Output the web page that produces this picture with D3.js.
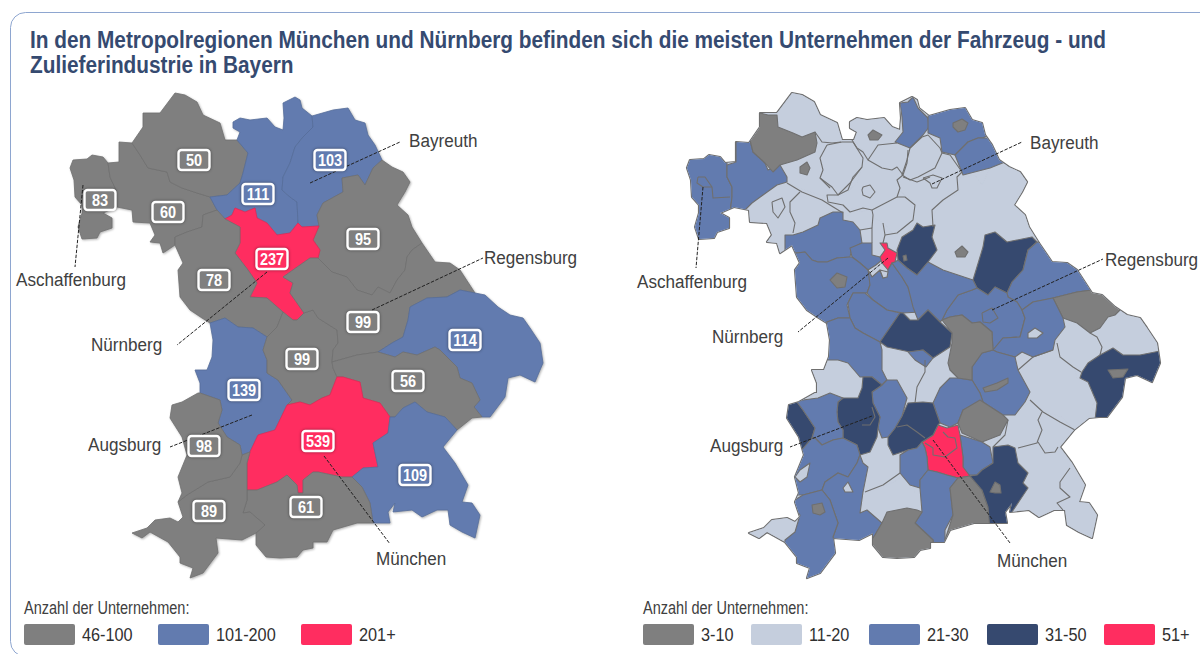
<!DOCTYPE html>
<html>
<head>
<meta charset="utf-8">
<script src="https://cdnjs.cloudflare.com/ajax/libs/d3/7.8.5/d3.min.js"></script>
<style>
	html, body { margin: 0; background: #fff; }
	svg { display: block; }
	text { font-family: "Liberation Sans", sans-serif; }
</style>
</head>
<body>
<div id="chart"></div>
<script>
const titleLines = [
	"In den Metropolregionen München und Nürnberg befinden sich die meisten Unternehmen der Fahrzeug - und",
	"Zulieferindustrie in Bayern"
];
const legendTitle = "Anzahl der Unternehmen:";

// left map: planning regions
const leftThresholds = [101, 201];
const leftColors = ["#7f7f7f", "#627baf", "#ff2d60"];
const leftLegend = ["46-100", "101-200", "201+"];
const leftNames = ["Untermain", "Würzburg", "Main-Rhön", "Oberfranken-West", "Oberfranken-Ost", "Oberpfalz-Nord", "Mittelfranken", "Westmittelfranken", "Augsburg", "Ingolstadt", "Regensburg", "Donau-Wald", "Landshut", "München", "Südostoberbayern", "Oberland", "Allgäu", "Donau-Iller"];
const leftValues = [83, 60, 50, 111, 103, 95, 237, 78, 139, 99, 99, 114, 56, 539, 109, 61, 89, 98];
const leftSpots = [[100,200],[168,212],[194,160],[258,194],[330,160],[363,239],[272,259],[214,280],[244,390],[302,359],[363,322],[465,340],[408,381],[318,441],[415,475],[306,507],[209,511],[204,446]];
const leftOutlines = [
	[[70,168],[73,160],[87,159],[92,155],[103,157],[108,163],[110,177],[116,190],[117,207],[103,213],[112,218],[112,228],[100,232],[97,238],[82,239],[78,227],[82,213],[82,205],[75,197],[74,180]],
	[[108,163],[119,162],[119,142],[132,143],[140,155],[148,168],[167,172],[170,182],[182,188],[197,193],[210,197],[217,210],[203,215],[202,227],[187,232],[175,237],[175,245],[163,253],[160,243],[150,242],[155,235],[150,223],[133,222],[132,210],[117,207],[116,190],[110,177]],
	[[132,143],[143,127],[143,113],[160,113],[175,93],[185,95],[197,102],[203,115],[220,123],[225,140],[237,140],[248,153],[243,173],[240,183],[227,195],[210,197],[197,193],[182,188],[170,182],[167,172],[148,168],[140,155]],
	[[233,122],[240,118],[250,120],[267,118],[275,127],[283,130],[284,118],[283,103],[295,97],[300,100],[302,108],[312,116],[313,127],[303,137],[295,147],[290,163],[283,177],[282,190],[290,197],[297,202],[298,223],[290,233],[277,235],[267,223],[257,218],[255,208],[245,212],[235,208],[232,215],[225,219],[217,210],[210,197],[227,195],[240,183],[243,173],[248,153],[237,140],[240,132],[233,128]],
	[[312,116],[333,110],[348,108],[355,120],[365,123],[368,135],[375,145],[382,160],[373,168],[365,185],[358,175],[342,178],[343,192],[323,203],[317,215],[319,226],[302,227],[298,223],[297,202],[290,197],[282,190],[283,177],[290,163],[295,147],[303,137],[313,127]],
	[[382,160],[392,167],[403,172],[410,182],[405,192],[397,205],[408,215],[412,227],[422,243],[412,250],[407,257],[405,270],[397,280],[390,293],[378,287],[372,295],[357,290],[347,277],[332,272],[318,258],[320,250],[313,240],[319,226],[317,215],[323,203],[343,192],[342,178],[358,175],[365,185],[373,168]],
	[[225,219],[232,215],[235,208],[245,212],[255,208],[257,218],[267,223],[277,235],[290,233],[298,223],[302,227],[319,226],[313,240],[320,250],[318,258],[310,258],[300,265],[283,277],[293,283],[290,293],[297,303],[304,313],[297,320],[293,320],[283,312],[267,298],[250,297],[257,283],[248,270],[235,253],[240,243],[240,227]],
	[[203,215],[217,210],[225,219],[240,227],[240,243],[235,253],[248,270],[257,283],[250,297],[267,298],[283,312],[277,327],[267,337],[253,328],[238,327],[225,318],[210,323],[202,318],[190,310],[180,297],[178,270],[183,263],[175,245],[175,237],[187,232],[202,227]],
	[[210,323],[225,318],[238,327],[253,328],[267,337],[263,350],[267,360],[267,373],[278,380],[292,400],[287,405],[275,430],[258,435],[250,452],[242,455],[240,445],[227,437],[218,423],[222,410],[220,400],[200,393],[200,383],[195,370],[207,370],[212,357],[213,340]],
	[[283,312],[293,320],[297,320],[304,313],[313,310],[318,318],[337,330],[338,343],[333,350],[332,362],[333,368],[337,377],[330,395],[322,398],[310,405],[300,402],[287,405],[292,400],[278,380],[267,373],[267,360],[263,350],[267,337],[277,327]],
	[[318,258],[332,272],[347,277],[357,290],[372,295],[378,287],[390,293],[397,280],[405,270],[407,257],[412,250],[422,243],[435,262],[450,263],[460,270],[475,293],[460,290],[447,297],[427,298],[410,307],[408,320],[403,337],[392,343],[378,352],[357,355],[332,362],[333,350],[338,343],[337,330],[318,318],[313,310],[304,313],[297,303],[290,293],[293,283],[283,277],[300,265],[310,258]],
	[[475,293],[485,295],[498,307],[510,315],[523,318],[530,328],[540,343],[543,363],[540,370],[535,382],[520,375],[508,378],[505,397],[490,417],[482,417],[474,407],[480,400],[472,383],[460,378],[457,367],[440,350],[435,347],[417,355],[403,352],[395,357],[378,352],[392,343],[403,337],[408,320],[410,307],[427,298],[447,297],[460,290]],
	[[332,362],[357,355],[378,352],[395,357],[403,352],[417,355],[435,347],[440,350],[457,367],[460,378],[472,383],[480,400],[474,407],[482,417],[472,418],[457,430],[445,417],[427,412],[415,402],[403,408],[395,417],[390,417],[380,403],[363,398],[360,382],[343,377],[337,377],[333,368]],
	[[337,377],[343,377],[360,382],[363,398],[380,403],[390,417],[388,433],[373,443],[378,467],[363,468],[352,477],[342,477],[318,472],[313,472],[303,480],[303,493],[298,493],[297,485],[287,475],[277,482],[257,490],[247,490],[247,463],[250,452],[258,435],[275,430],[287,405],[300,402],[310,405],[322,398],[330,395]],
	[[415,402],[427,412],[445,417],[457,430],[443,447],[455,463],[468,485],[462,502],[472,503],[480,515],[475,538],[462,532],[450,525],[448,510],[437,510],[422,517],[412,510],[393,512],[395,503],[388,512],[390,523],[373,523],[370,503],[362,487],[352,477],[363,468],[378,467],[373,443],[388,433],[390,417],[395,417],[403,408]],
	[[247,490],[257,490],[277,482],[287,475],[297,485],[298,493],[303,493],[303,480],[313,472],[318,472],[342,477],[352,477],[362,487],[370,503],[373,523],[357,523],[333,530],[327,542],[313,542],[313,548],[303,550],[297,557],[280,558],[266,557],[256,545],[256,533],[265,525],[250,512],[243,513],[247,500]],
	[[242,455],[250,452],[247,463],[247,490],[247,500],[243,513],[250,512],[265,525],[256,533],[242,540],[216,538],[218,553],[203,573],[190,578],[193,568],[180,563],[180,557],[168,542],[150,532],[142,538],[132,533],[147,528],[155,520],[170,518],[178,522],[183,517],[178,502],[187,495],[208,482],[230,477],[240,463]],
	[[172,405],[182,402],[198,393],[200,393],[220,400],[222,410],[218,423],[227,437],[240,445],[242,455],[240,463],[230,477],[208,482],[187,495],[178,502],[182,493],[178,477],[187,455],[182,437],[170,418]]
];

// right map: counties, estimated per class. everything not listed is in the 11-20 class
const rightThresholds = [11, 21, 31, 51];
const rightColors = ["#7f7f7f", "#c5cedd", "#627baf", "#36496f", "#ff2d60"];
const rightLegend = ["3-10", "11-20", "21-30", "31-50", "51+"];
const rightRestValue = 15;
const rightValues = [
	26, 24, 8, 7, 6, 25, 27, 7, 24, 38,
	5, 9, 40, 24, 8, 25, 27, 16, 22, 28,
	7, 7, 40, 9, 8, 26, 60, 38, 24, 26,
	7, 42, 6, 26, 23, 58, 25, 8, 24, 15,
	27, 25, 40, 26, 24, 45, 35, 25, 23, 15,
	24, 15, 26, 5, 8, 23
];
const rightOutlines = [
	[[685,150],[727,150],[727,165],[727,177],[732,187],[732,197],[730,213],[740,217],[740,250],[685,250]],
	[[727,165],[736,162],[736,142],[750,140],[753,152],[765,163],[768,170],[780,165],[787,177],[787,182],[777,185],[763,195],[752,203],[743,212],[740,217],[730,213],[732,197],[732,187],[727,177]],
	[[750,140],[760,113],[768,115],[777,115],[778,127],[793,133],[802,137],[815,132],[817,143],[815,152],[797,160],[780,165],[773,172],[765,163],[753,152]],
	[[800,167],[807,162],[810,168],[807,175],[800,173]],
	[[868,135],[873,130],[882,135],[878,140],[870,140]],
	[[900,103],[908,102],[913,97],[918,108],[928,118],[929,127],[923,135],[910,148],[895,142],[903,132],[902,117]],
	[[928,117],[930,105],[975,100],[988,120],[992,133],[983,138],[978,138],[968,142],[955,155],[942,152],[940,138],[928,133]],
	[[953,123],[962,119],[968,123],[965,130],[958,132],[953,127]],
	[[955,155],[968,142],[978,138],[995,138],[1010,160],[990,168],[963,175]],
	[[917,223],[923,227],[935,225],[932,237],[937,250],[928,262],[917,275],[907,268],[898,260],[897,250],[902,237],[913,230]],
	[[903,256],[906,255],[907,260],[904,261]],
	[[955,252],[962,246],[968,252],[965,257],[957,257]],
	[[985,235],[995,232],[1007,242],[1032,237],[1037,242],[1028,250],[1023,270],[1012,282],[1007,293],[995,287],[988,295],[977,288],[973,280],[980,257],[983,247]],
	[[1037,242],[1050,245],[1065,255],[1085,260],[1100,285],[1092,290],[1077,292],[1053,298],[1033,302],[1022,310],[1017,302],[1008,297],[1007,293],[1012,282],[1023,270],[1028,250]],
	[[1053,298],[1077,292],[1092,290],[1100,285],[1125,305],[1115,315],[1108,317],[1100,328],[1090,333],[1077,323],[1063,318]],
	[[947,310],[958,295],[972,290],[977,288],[988,295],[995,287],[1007,293],[1008,297],[1017,302],[1022,310],[1025,318],[1020,337],[1003,338],[993,350],[992,332],[980,322],[972,323],[962,315],[950,317],[942,320]],
	[[1033,302],[1053,298],[1063,318],[1065,327],[1055,340],[1053,350],[1033,357],[1022,352],[1015,357],[997,352],[993,350],[1003,338],[1020,337],[1025,318],[1022,310]],
	[[1028,333],[1035,328],[1043,333],[1037,338],[1028,338]],
	[[972,367],[982,353],[993,350],[997,352],[1015,357],[1018,370],[1030,392],[1025,402],[1015,415],[1003,415],[983,402],[980,393],[972,380]],
	[[950,378],[958,378],[970,380],[972,380],[980,393],[983,402],[963,410],[958,423],[950,427],[940,423],[933,403],[940,388]],
	[[942,320],[950,317],[962,315],[972,323],[980,322],[992,332],[993,350],[982,353],[972,367],[972,380],[958,378],[950,370],[948,363],[952,343],[952,333]],
	[[983,388],[997,383],[1008,378],[1008,383],[997,390],[985,392]],
	[[1088,363],[1100,355],[1113,348],[1123,355],[1140,355],[1165,350],[1165,385],[1130,385],[1130,400],[1110,425],[1095,420],[1097,403],[1088,382],[1080,378],[1082,372]],
	[[1108,370],[1128,369],[1123,377],[1113,378]],
	[[980,400],[983,402],[1003,415],[1008,420],[1000,435],[982,442],[962,433],[958,423],[963,410]],
	[[960,435],[982,442],[990,447],[993,463],[982,470],[977,475],[968,475],[963,467],[963,457]],
	[[922,442],[933,435],[938,425],[947,428],[958,425],[960,435],[963,457],[963,467],[970,476],[958,478],[947,475],[937,472],[928,470],[927,457],[925,448]],
	[[888,437],[895,428],[902,416],[908,403],[923,402],[933,403],[940,423],[938,425],[933,435],[922,442],[917,448],[908,450],[893,455],[888,445]],
	[[900,455],[908,450],[917,448],[922,442],[925,448],[927,457],[928,470],[920,480],[920,488],[910,485],[900,473]],
	[[928,470],[937,472],[947,475],[958,478],[950,488],[953,515],[945,530],[945,550],[933,550],[933,540],[915,523],[922,512],[920,488],[920,480]],
	[[958,478],[970,476],[982,490],[988,507],[995,523],[995,540],[945,540],[953,515],[950,488]],
	[[993,447],[1008,445],[1015,448],[1018,463],[1028,473],[1023,483],[1028,488],[1020,500],[1012,512],[1012,530],[990,530],[988,507],[982,490],[970,476],[977,475],[982,470],[993,463]],
	[[990,492],[995,482],[1000,485],[1001,493],[995,493]],
	[[793,235],[803,232],[818,225],[820,218],[833,212],[843,212],[843,220],[853,222],[860,230],[862,243],[852,248],[850,257],[837,258],[827,262],[818,262],[812,260],[805,252],[797,253],[785,250],[785,235]],
	[[850,248],[862,243],[872,243],[872,255],[880,257],[882,260],[876,265],[868,270],[860,263],[852,257]],
	[[880,243],[887,243],[888,248],[897,253],[895,262],[892,263],[888,270],[882,263],[880,257],[885,250]],
	[[797,253],[805,252],[812,260],[818,262],[827,262],[837,258],[850,257],[852,257],[860,263],[868,270],[872,277],[870,285],[867,293],[853,293],[847,305],[850,318],[838,318],[827,322],[815,330],[785,330],[785,253]],
	[[830,280],[837,273],[847,277],[845,287],[837,288]],
	[[868,270],[872,277],[880,270],[883,278],[887,277],[888,270],[892,263],[902,277],[908,287],[915,307],[920,312],[903,313],[887,310],[873,300],[867,293],[870,285]],
	[[880,270],[888,272],[887,277],[883,278]],
	[[848,303],[853,293],[865,293],[873,300],[887,310],[900,313],[880,342],[863,333],[855,328],[850,318]],
	[[892,263],[895,262],[898,260],[907,268],[917,275],[928,262],[943,270],[973,280],[977,288],[972,290],[958,295],[947,310],[942,320],[940,322],[928,310],[918,320],[913,307],[908,287],[902,277]],
	[[880,342],[900,313],[903,313],[910,320],[918,320],[928,310],[940,322],[952,333],[950,347],[933,358],[923,350],[910,352],[887,347]],
	[[827,322],[838,318],[850,318],[855,328],[863,333],[880,342],[882,350],[882,370],[887,380],[882,385],[872,377],[860,377],[848,363],[838,360],[822,360]],
	[[882,385],[887,380],[897,380],[907,398],[902,416],[895,428],[888,437],[882,438],[878,428],[880,417],[873,403],[872,392]],
	[[838,402],[843,398],[858,398],[862,388],[863,377],[872,377],[882,385],[872,392],[873,403],[880,417],[878,428],[877,437],[870,452],[860,455],[857,445],[843,438],[843,430],[838,422],[837,412]],
	[[775,405],[790,403],[797,402],[803,410],[815,428],[812,438],[800,452],[775,452]],
	[[803,400],[818,398],[830,393],[843,398],[838,402],[837,412],[838,422],[843,430],[843,438],[833,440],[822,445],[815,438],[812,438],[815,428],[803,410],[797,402]],
	[[812,438],[815,438],[822,445],[833,440],[843,438],[857,445],[860,455],[857,463],[848,477],[838,473],[825,482],[822,490],[803,495],[790,495],[790,452],[800,452]],
	[[800,470],[810,463],[807,477],[800,482],[795,477]],
	[[860,455],[863,463],[868,467],[863,492],[860,513],[867,510],[882,523],[875,535],[865,550],[833,550],[833,537],[838,523],[830,500],[822,490],[825,482],[838,473],[848,477],[857,463]],
	[[843,488],[848,482],[853,492],[845,492]],
	[[790,503],[803,495],[822,490],[830,500],[838,523],[833,537],[840,560],[820,590],[780,590],[785,540],[795,532],[800,515]],
	[[812,505],[822,503],[825,512],[820,515],[813,513]],
	[[875,535],[882,523],[887,512],[907,508],[917,510],[922,512],[915,523],[933,540],[935,565],[865,570],[865,550]],
	[[908,352],[923,350],[933,358],[926,367],[915,360]]
];
// borders between counties of the same class
const rightBorders = [
	[[698,177],[705,177],[712,187],[713,198],[730,197]],
	[[698,177],[697,183],[703,187],[712,187]],
	[[815,132],[822,142],[832,143],[841,142]],
	[[827,145],[820,158],[823,170],[820,178],[832,187],[838,195],[850,183],[862,167],[863,158],[853,142],[842,142],[827,145]],
	[[852,140],[857,148],[863,152],[868,160],[878,145],[897,143]],
	[[868,160],[882,168],[892,170],[897,167],[903,175]],
	[[908,150],[907,163],[903,175]],
	[[903,177],[917,182],[930,177]],
	[[862,167],[853,177],[848,190],[838,195],[827,195],[828,202],[843,205],[850,212],[863,208],[872,210],[897,197],[900,188],[897,180],[903,175]],
	[[863,187],[870,185],[875,192],[870,198],[863,195],[862,190],[863,187]],
	[[787,183],[802,192],[822,200],[830,205],[843,213]],
	[[800,192],[790,202],[790,212],[795,223],[793,233]],
	[[772,202],[782,198],[785,207],[778,218],[773,212],[772,202]],
	[[830,188],[820,178]],
	[[860,230],[872,228],[872,243]],
	[[883,223],[885,235],[883,243]],
	[[885,235],[897,233],[913,220],[915,205],[905,197],[897,197]],
	[[872,228],[873,215],[872,210]],
	[[910,148],[922,137],[928,135],[940,148],[942,153],[935,168],[918,177],[910,180],[902,175],[907,160],[910,148]],
	[[942,153],[950,155],[962,172],[957,177],[958,190],[943,200],[932,210],[933,227]],
	[[923,178],[933,175],[942,178],[937,188],[932,188],[930,183],[923,178]],
	[[982,313],[992,308],[998,318],[990,323],[983,322],[982,313]],
	[[862,425],[870,425],[875,417],[872,407]],
	[[897,427],[907,425],[917,432],[925,438]],
	[[925,443],[933,448],[933,455],[945,457],[957,448],[955,438],[948,437],[943,432]],
	[[925,360],[925,372],[917,387],[915,403]],
	[[865,492],[883,485],[900,473]],
	[[1057,343],[1060,357],[1073,367],[1081,372]],
	[[1090,333],[1097,337],[1102,347],[1100,355]],
	[[1030,400],[1043,412],[1060,422],[1075,430]],
	[[1042,412],[1038,420],[1042,430],[1038,440],[1037,443],[1018,448]],
	[[1038,442],[1045,453],[1055,452],[1058,447]],
	[[1070,468],[1060,482],[1060,488],[1070,497],[1057,503],[1063,510]],
	[[1018,370],[1033,357],[1053,350]],
	[[1008,420],[1005,435],[993,447]]
];

// callouts, same for both maps
const cityNames = ["Aschaffenburg", "Nürnberg", "Bayreuth", "Regensburg", "Augsburg", "München"];
const leftLeaders = [[[83,185],[75,267]], [[267,272],[177,345]], [[310,183],[400,142]], [[372,310],[483,258]], [[252,415],[170,447]], [[324,456],[390,544]]];
const leftCityText = [[16,279], [91,344], [409,140], [484,257], [88,444], [376,558]];
const rightLeaders = [[[703,187],[696,268]], [[888,258],[798,332]], [[932,184],[1022,142]], [[992,310],[1103,259]], [[872,416],[790,447]], [[933,440],[1010,543]]];
const rightCityText = [[637,281], [712,336], [1030,142], [1105,259], [710,445], [997,560]];

const width = 1200, height = 654;
const rightShift = 617;

const svg = d3.select("#chart").append("svg")
	.attr("width", width)
	.attr("height", height);

// shapes are traced in page pixels, so the projection just passes them through
const path = d3.geoPath(d3.geoIdentity());

function ringFeature(ring) {
	return {type: "Feature", geometry: {type: "Polygon", coordinates: [ring.concat([ring[0]])]}};
}
function lineFeature(line) {
	return {type: "Feature", geometry: {type: "LineString", coordinates: line}};
}
// the original font is a narrow one, none is installed so squeeze the sans
function squeeze(x, y, sx) {
	return "translate(" + x + "," + y + ") scale(" + sx + ",1)";
}

const leftColor = d3.scaleThreshold().domain(leftThresholds).range(leftColors);
const rightColor = d3.scaleThreshold().domain(rightThresholds).range(rightColors);
const leftFeatures = leftOutlines.map(ringFeature);

// card
svg.append("rect")
	.attr("x", 10.5).attr("y", 12.5)
	.attr("width", 1300).attr("height", 644)
	.attr("rx", 15)
	.attr("fill", "none")
	.attr("stroke", "#8ea6d0")
	.attr("stroke-width", 1);

svg.selectAll(".title").data(titleLines).enter().append("text")
	.attr("class", "title")
	.attr("transform", (d, i) => squeeze(30, 48 + i * 25, 0.905))
	.attr("fill", "#354a70")
	.style("font-size", "23px")
	.style("font-weight", "bold")
	.text(d => d);

// left map
const leftMap = svg.append("g")
	.style("filter", "drop-shadow(1px 1px 1px rgba(0,0,0,0.3))");
leftMap.selectAll("path").data(leftFeatures).enter().append("path")
	.attr("d", path)
	.attr("fill", (d, i) => leftColor(leftValues[i]))
	.attr("stroke", (d, i) => d3.color(leftColor(leftValues[i])).darker(0.35))
	.attr("stroke-width", 0.8)
	.attr("stroke-linejoin", "round");

// right map. the state outline comes from the left map, moved over
const rightClip = svg.append("defs").append("clipPath").attr("id", "bavaria");
rightClip.selectAll("path").data(leftFeatures).enter().append("path")
	.attr("d", path)
	.attr("transform", "translate(" + rightShift + ",0)");

const rightBase = svg.append("g")
	.attr("transform", "translate(" + rightShift + ",0)");
rightBase.selectAll("path").data(leftFeatures).enter().append("path")
	.attr("d", path)
	.attr("fill", "#6f6f6f")
	.attr("stroke", "#6f6f6f")
	.attr("stroke-width", 2.2)
	.attr("stroke-linejoin", "round");

const rightMap = svg.append("g").attr("clip-path", "url(#bavaria)");
rightMap.append("g")
	.attr("transform", "translate(" + rightShift + ",0)")
	.selectAll("path").data(leftFeatures).enter().append("path")
	.attr("d", path)
	.attr("fill", rightColor(rightRestValue))
	.attr("stroke", rightColor(rightRestValue))
	.attr("stroke-width", 1);
rightMap.selectAll(".county").data(rightOutlines.map(ringFeature)).enter().append("path")
	.attr("class", "county")
	.attr("d", path)
	.attr("fill", (d, i) => rightColor(rightValues[i]))
	.attr("stroke", "#6f6f6f")
	.attr("stroke-width", 1.1)
	.attr("stroke-linejoin", "round");
rightMap.selectAll(".border").data(rightBorders.map(lineFeature)).enter().append("path")
	.attr("class", "border")
	.attr("d", path)
	.attr("fill", "none")
	.attr("stroke", "#6f6f6f")
	.attr("stroke-width", 1.1)
	.attr("stroke-linejoin", "round");

// dashed leaders and city names
function drawCallouts(leaders, spots) {
	svg.selectAll(null).data(leaders.map(lineFeature)).enter().append("path")
		.attr("d", path)
		.attr("fill", "none")
		.attr("stroke", "#222")
		.attr("stroke-width", 1)
		.attr("stroke-dasharray", "3.5,1.5");
	svg.selectAll(null).data(cityNames).enter().append("text")
		.attr("transform", (d, i) => squeeze(spots[i][0], spots[i][1], 0.9))
		.attr("dy", "0.35em")
		.attr("fill", "#404040")
		.style("font-size", "19px")
		.text(d => d);
}
drawCallouts(leftLeaders, leftCityText);
drawCallouts(rightLeaders, rightCityText);

// value boxes on the left map
const boxes = svg.selectAll(".box").data(leftValues).enter().append("g")
	.attr("class", "box")
	.attr("transform", (d, i) => "translate(" + leftSpots[i][0] + "," + leftSpots[i][1] + ")");
boxes.append("rect")
	.attr("x", -15.5).attr("y", -10)
	.attr("width", 31).attr("height", 20)
	.attr("rx", 3)
	.attr("fill", d => leftColor(d))
	.attr("stroke", "#fff")
	.attr("stroke-width", 2.4)
	.style("filter", "drop-shadow(0px 0px 1.5px rgba(0,0,0,0.45))");
boxes.append("text")
	.attr("text-anchor", "middle")
	.attr("transform", squeeze(0, 6, 0.88))
	.attr("fill", "#fff")
	.style("font-size", "16.5px")
	.style("font-weight", "bold")
	.text(d => d);

// legends
function drawLegend(x0, labels, colors, step) {
	svg.append("text")
		.attr("transform", squeeze(x0, 614, 0.785))
		.attr("fill", "#404040")
		.style("font-size", "18.5px")
		.text(legendTitle);
	const items = svg.selectAll(null).data(labels).enter().append("g")
		.attr("transform", (d, i) => "translate(" + (x0 + step(i)) + ",624)");
	items.append("rect")
		.attr("width", 51).attr("height", 21)
		.attr("rx", 2)
		.attr("fill", (d, i) => colors[i]);
	items.append("text")
		.attr("transform", squeeze(58, 17, 0.88))
		.attr("fill", "#303030")
		.style("font-size", "18.5px")
		.text(d => d);
}
const leftSteps = d3.scaleOrdinal().domain([0, 1, 2]).range([0, 134, 277]);
const rightSteps = d3.scaleOrdinal().domain([0, 1, 2, 3, 4]).range([0, 108, 226, 344, 461]);
drawLegend(24, leftLegend, leftColors, leftSteps);
drawLegend(643, rightLegend, rightColors, rightSteps);
</script>
</body>
</html>
